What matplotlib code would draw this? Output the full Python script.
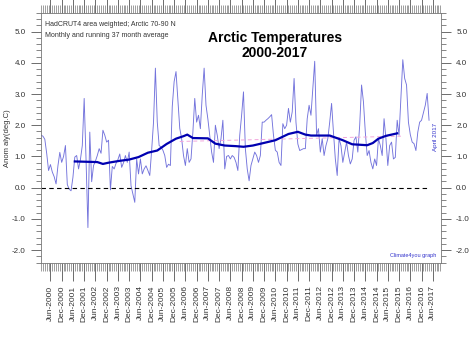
import matplotlib
matplotlib.use("Agg")
import matplotlib.pyplot as plt
from matplotlib.ticker import MultipleLocator, FixedLocator

plt.rcParams['font.family'] = ['Liberation Sans', 'DejaVu Sans']

# monthly Arctic anomaly, Jan 2000 .. Apr 2017 (index 0 = Jan 2000)
monthly = [
    1.68, 1.65, 1.55, 1.10, 0.55, 0.74, 0.50, 0.35, 0.12, 0.70, 1.13, 0.81,
    1.00, 1.35, 0.10, -0.05, -0.10, 0.33, 0.98, 1.03, 0.60, 0.90, 1.35, 2.86,
    0.90, -1.28, 1.78, 0.19, 0.71, 0.85, 1.03, 1.25, 1.10, 1.84, 1.68, 1.46,
    1.52, -0.07, 0.68, 0.60, 0.78, 0.90, 1.08, 0.65, 0.80, 1.03, 0.81, 1.14,
    0.06, -0.20, -0.47, 0.92, 0.44, 0.92, 0.44, 0.60, 0.70, 0.55, 0.39, 1.20,
    2.10, 3.83, 2.10, 1.35, 1.30, 1.20, 1.03, 0.65, 0.75, 0.71, 2.60, 3.40,
    3.72, 2.80, 1.90, 1.57, 1.03, 0.71, 1.25, 0.81, 0.92, 1.78, 2.86, 2.10,
    2.32, 1.89, 2.97, 3.83, 2.64, 2.20, 1.68, 1.14, 0.81, 2.00, 1.68, 1.25,
    1.57, 2.16, 0.60, 1.00, 1.03, 0.92, 1.03, 0.97, 0.81, 0.55, 1.68, 2.32,
    3.07, 1.25, 0.60, 0.22, 0.71, 0.92, 1.14, 1.03, 0.81, 1.03, 2.10, 2.10,
    2.16, 2.21, 2.27, 2.34, 1.68, 1.20, 1.14, 0.81, 0.71, 2.05, 1.89, 2.00,
    2.54, 2.10, 2.43, 3.50, 2.10, 1.40, 1.19, 1.22, 1.25, 1.25, 2.21, 2.64,
    2.32, 3.20, 4.05, 1.68, 1.89, 1.14, 1.57, 1.03, 1.35, 1.57, 2.10, 2.70,
    1.78, 0.92, 0.39, 1.57, 1.35, 0.81, 1.14, 1.46, 1.03, 0.76, 0.92, 1.52,
    1.63, 1.14, 2.00, 3.29, 2.75, 1.78, 1.03, 1.19, 0.81, 0.60, 0.92, 0.71,
    1.57, 1.35, 1.03, 2.21, 1.57, 0.71, 1.35, 1.46, 0.92, 0.97, 2.16, 1.68,
    2.90, 4.10, 3.50, 3.29, 2.10, 1.70, 1.46, 1.41, 1.19, 1.78, 2.10, 2.16,
    2.40, 2.64, 3.02, 2.16,
]

# running 37 month average, read at these month indices
avg_month = [18, 24, 30, 33, 36, 42, 47, 52, 57, 62, 67, 72, 76, 78, 81, 89,
             93, 98, 104, 108, 113, 118, 125, 132, 137, 141, 144, 154, 161,
             166, 174, 177, 180, 184, 190]
avg_value = [0.84, 0.83, 0.82, 0.76, 0.80, 0.86, 0.90, 0.98, 1.12, 1.19, 1.40,
             1.57, 1.65, 1.70, 1.59, 1.58, 1.41, 1.35, 1.33, 1.31, 1.35, 1.42,
             1.52, 1.72, 1.79, 1.70, 1.67, 1.67, 1.52, 1.39, 1.36, 1.43, 1.57,
             1.66, 1.74]

# faint pink reference line
ref_month = [74, 192]
ref_value = [1.48, 1.65]

tick_months = list(range(5, 210, 6))
tick_labels = [('Jun' if m % 12 == 5 else 'Dec') + '-%d' % (2000 + m // 12)
               for m in tick_months]

fig = plt.figure(figsize=(4.72, 3.4), dpi=100)
ax = fig.add_axes([0.087, 0.226, 0.847, 0.736])

ax.plot(range(len(monthly)), monthly, color='#7373dc', lw=0.65)
ax.plot(ref_month, ref_value, color='#f2a6dc', lw=0.7, ls=(0, (4, 3)))
ax.plot(avg_month, avg_value, color='#0000b0', lw=1.6)
ax.plot([0, 206], [0, 0], color='black', lw=0.8, ls=(0, (4, 3)))

ax.set_xlim(0, 213.3)
ax.set_ylim(-2.42, 5.6)

ax.xaxis.set_major_locator(FixedLocator(tick_months))
ax.xaxis.set_minor_locator(MultipleLocator(1))
ax.set_xticklabels(tick_labels, rotation=90, fontsize=6, color='#333333')
ax.yaxis.set_major_locator(MultipleLocator(1.0))
ax.yaxis.set_minor_locator(MultipleLocator(0.2))
ax.yaxis.set_major_formatter(matplotlib.ticker.FormatStrFormatter('%.1f'))

ax.tick_params(axis='x', which='major', direction='out', length=13, width=0.6,
               color='#555555', top=True, pad=3)
ax.tick_params(axis='x', which='minor', direction='out', length=6, width=0.5,
               color='#777777', top=True)
ax.tick_params(axis='y', which='major', direction='out', length=7, width=0.6,
               color='#555555', right=True, labelright=True, labelsize=5.8,
               labelcolor='#333333', pad=4)
ax.tick_params(axis='y', which='minor', direction='out', length=3.5, width=0.5,
               color='#555555', right=True)
for s in ax.spines.values():
    s.set_color('#777777')
    s.set_linewidth(0.6)

ax.set_ylabel('Anom aly(deg.C)', fontsize=5.5, color='#333333', labelpad=1)

ax.text(0.01, 0.955, 'HadCRUT4 area weighted; Arctic 70-90 N', transform=ax.transAxes,
        fontsize=5, color='#333333', va='center')
ax.text(0.01, 0.91, 'Monthly and running 37 month average', transform=ax.transAxes,
        fontsize=5, color='#333333', va='center')
ax.text(0.585, 0.87, 'Arctic Temperatures\n2000-2017', transform=ax.transAxes,
        fontsize=10, fontweight='bold', ha='center', va='center', linespacing=1.1)
ax.text(0.987, 0.505, 'April 2017', transform=ax.transAxes, rotation=90,
        fontsize=4.5, color='#3333cc', ha='center', va='center')
ax.text(0.99, 0.02, 'Climate4you graph', transform=ax.transAxes,
        fontsize=4, color='#3333cc', ha='right', va='bottom')

fig.savefig('out.png', dpi=100, facecolor='white')
